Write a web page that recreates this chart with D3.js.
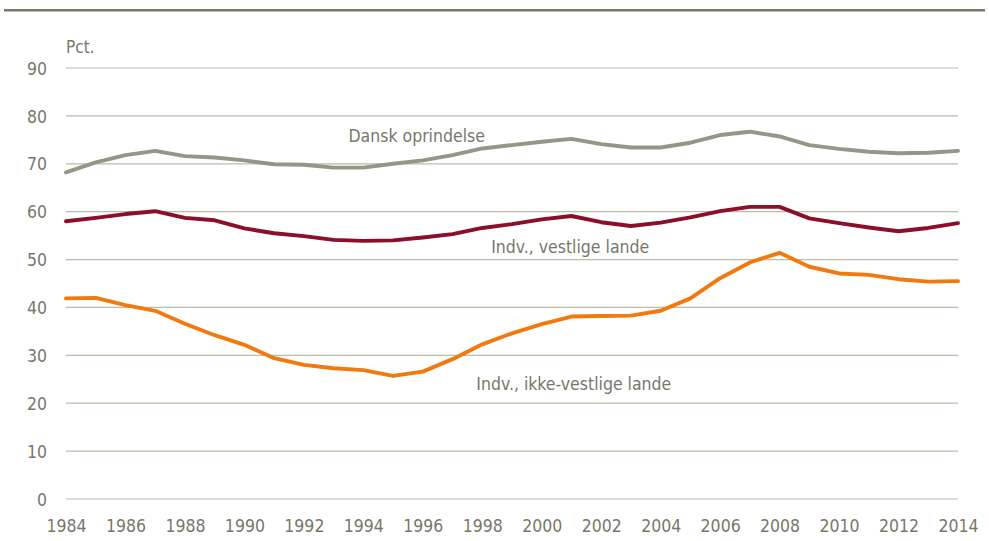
<!DOCTYPE html>
<html>
<head>
<meta charset="utf-8" />
<title>Pct. fordelt på herkomst</title>
<style>
  body { margin: 0; background: #fff; }
  svg text { font-family: "Liberation Sans Narrow", "Arial Narrow", "DejaVu Sans Condensed", sans-serif; fill: #77776a; }
</style>
</head>
<body>
<svg></svg>
<script src="https://d3js.org/d3.v7.min.js"></script>
<script>
  // Data
  const years = d3.range(1984, 2015);
  const dansk = [68.2, 70.3, 71.8, 72.7, 71.6, 71.3, 70.7, 69.9, 69.8, 69.2, 69.2, 70.0, 70.7, 71.8, 73.2, 73.9,
                 74.6, 75.2, 74.1, 73.4, 73.4, 74.4, 76.0, 76.7, 75.7, 73.9, 73.1, 72.5, 72.2, 72.3, 72.7];
  const vestlige = [58.0, 58.7, 59.5, 60.1, 58.7, 58.2, 56.5, 55.5, 54.9, 54.1, 53.9, 54.0, 54.6, 55.3, 56.6, 57.4,
                    58.4, 59.1, 57.8, 57.0, 57.7, 58.8, 60.1, 61.0, 61.0, 58.6, 57.6, 56.7, 55.9, 56.6, 57.6];
  const ikkeVestlige = [41.9, 42.0, 40.5, 39.3, 36.6, 34.2, 32.2, 29.4, 28.0, 27.3, 26.9, 25.7, 26.6, 29.2, 32.3, 34.6,
                        36.5, 38.1, 38.2, 38.3, 39.3, 41.9, 46.1, 49.4, 51.4, 48.5, 47.1, 46.8, 45.9, 45.4, 45.5];
  const yTicks = [0, 10, 20, 30, 40, 50, 60, 70, 80, 90];
  const xTicks = d3.range(1984, 2015, 2);

  const series = [
    { name: "Dansk oprindelse", values: dansk, color: "#979585", lx: 1993.5, ly: 74.5 },
    { name: "Indv., vestlige lande", values: vestlige, color: "#8b0e2a", lx: 1998.3, ly: 51.3 },
    { name: "Indv., ikke-vestlige lande", values: ikkeVestlige, color: "#f07a10", lx: 1997.8, ly: 22.8 }
  ];

  const width = 989, height = 541;
  const svg = d3.select("svg").attr("width", width).attr("height", height);

  // top rule
  svg.append("rect").attr("x", 4).attr("y", 9).attr("width", 981).attr("height", 2.5).attr("fill", "#7a7863");

  const x = d3.scaleLinear().domain([1984, 2014]).range([66, 958]);
  const y = d3.scaleLinear().domain([0, 90]).range([499, 68]);

  // gridlines
  svg.append("g")
    .selectAll("line")
    .data(yTicks)
    .join("line")
    .attr("x1", x(1984)).attr("x2", x(2014))
    .attr("y1", d => y(d)).attr("y2", d => y(d))
    .attr("stroke", "#bdbba9").attr("stroke-width", 1.2);

  // y axis labels
  const yAxis = svg.append("g")
    .attr("transform", "translate(47,0)")
    .call(d3.axisLeft(y).tickValues(yTicks).tickSize(0).tickPadding(0));
  yAxis.select(".domain").remove();
  yAxis.selectAll("text").attr("font-size", 17.5).attr("dy", "0.35em");

  // x axis labels
  const xAxis = svg.append("g")
    .attr("transform", "translate(0,508)")
    .call(d3.axisBottom(x).tickValues(xTicks).tickFormat(d3.format("d")).tickSize(0).tickPadding(0));
  xAxis.select(".domain").remove();
  xAxis.selectAll("text").attr("font-size", 17.5).attr("dy", "1.35em");

  svg.selectAll("g").attr("font-family", null).attr("font-size", null);

  // unit label
  svg.append("text").attr("x", 66).attr("y", 53).attr("font-size", 17).text("Pct.");

  // lines
  const line = d3.line()
    .x((d, i) => x(years[i]))
    .y(d => y(d));

  svg.append("g")
    .selectAll("path")
    .data(series)
    .join("path")
    .attr("d", d => line(d.values))
    .attr("fill", "none")
    .attr("stroke", d => d.color)
    .attr("stroke-width", 3.9)
    .attr("stroke-linejoin", "round")
    .attr("stroke-linecap", "round");

  // series labels
  svg.append("g")
    .selectAll("text")
    .data(series)
    .join("text")
    .attr("x", d => x(d.lx))
    .attr("y", d => y(d.ly))
    .attr("font-size", 17.5)
    .text(d => d.name);
</script>
</body>
</html>
